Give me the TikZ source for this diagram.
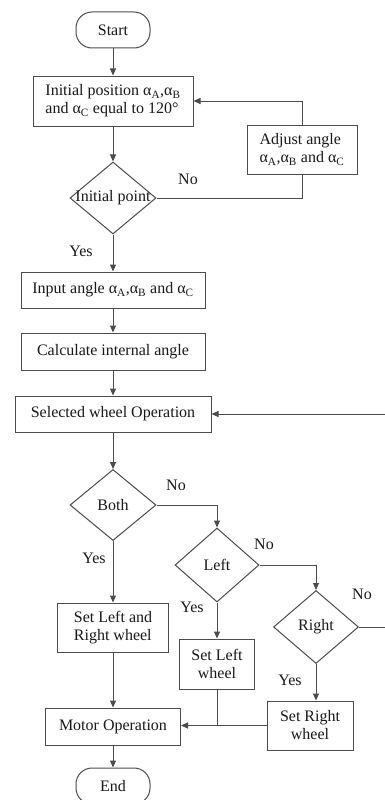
\documentclass[tikz,border=0pt]{standalone}
\usepackage{fontspec}
\setmainfont{Liberation Serif}
\usetikzlibrary{shapes.geometric,arrows.meta}
\begin{document}
\begin{tikzpicture}[x=1pt,y=-1pt,
  every node/.style={font=\fontsize{16}{18}\selectfont, text=black!90},
  line/.style={draw=black!70, line width=1pt},
  arr/.style={line, -{Triangle[length=7pt,width=6pt]}},
  box/.style={draw=black!70, line width=1pt, rectangle, inner sep=0pt, align=center},
  term/.style={box, rounded corners=16pt},
  decision/.style={draw=black!70, line width=1pt, diamond, inner sep=0pt},
  lbl/.style={inner sep=0pt}
]
\useasboundingbox (0,0) rectangle (385,800);
\fill[white] (0,0) rectangle (385,800);
\clip (0,0) rectangle (385,800);

% process steps
\node[term, minimum width=74pt, minimum height=36pt] (start) at (113,30) {Start};
\node[box, minimum width=160pt, minimum height=50pt, align=left] (init) at (113,101)
  {Initial position α\textsubscript{A},α\textsubscript{B}\\and α\textsubscript{C} equal to 120°};
\node[box, minimum width=110pt, minimum height=49pt, align=left] (adjust) at (302,149.5)
  {Adjust angle\\α\textsubscript{A},α\textsubscript{B} and α\textsubscript{C}};
\node[decision, minimum width=86pt, minimum height=72pt, label=center:{Initial point}] (initpt) at (113,198) {};
\node[box, minimum width=184pt, minimum height=36pt] (input) at (113,290)
  {Input angle α\textsubscript{A},α\textsubscript{B} and α\textsubscript{C}};
\node[box, minimum width=184pt, minimum height=37pt] (calc) at (113,351.5) {Calculate internal angle};
\node[box, minimum width=196pt, minimum height=36pt] (select) at (113,414) {Selected wheel Operation};
\node[decision, minimum width=86pt, minimum height=71pt, label=center:{Both}] (both) at (113,505) {};
\node[decision, minimum width=84pt, minimum height=74pt, label=center:{Left}] (left) at (217,565) {};
\node[decision, minimum width=85pt, minimum height=73pt, label=center:{Right}] (right) at (316,627) {};
\node[box, minimum width=111pt, minimum height=49pt, align=left] (setlr) at (113,627.5) {Set Left and\\Right wheel};
\node[box, minimum width=75pt, minimum height=50pt] (setl) at (217,664) {Set Left\\wheel};
\node[box, minimum width=86pt, minimum height=49pt] (setr) at (310,725.5) {Set Right\\wheel};
\node[box, minimum width=135pt, minimum height=37pt] (motor) at (113,726.5) {Motor Operation};
\node[term, minimum width=74pt, minimum height=36pt] (stop) at (113,786) {End};

% branch labels
\node[lbl] (no1) at (188,179) {No};
\node[lbl] (yes1) at (81,251) {Yes};
\node[lbl] (no2) at (176,485) {No};
\node[lbl] (yes2) at (94,558) {Yes};
\node[lbl] (no3) at (264,544) {No};
\node[lbl] (yes3) at (192,607) {Yes};
\node[lbl] (no4) at (362,594) {No};
\node[lbl] (yes4) at (290,680) {Yes};

\coordinate (loopout) at (392,627);

% connectors
\draw[arr] (start) -- (init);
\draw[arr] (init) -- (initpt);
\draw[line] (initpt.east) -| (adjust.south);
\draw[arr] (adjust.north) |- (init.east);
\draw[arr] (initpt) -- (input);
\draw[arr] (input) -- (calc);
\draw[arr] (calc) -- (select);
\draw[arr] (select) -- (both);
\draw[arr] (both.east) -| (left.north);
\draw[arr] (both) -- (setlr);
\draw[arr] (left.east) -| (right.north);
\draw[arr] (left) -- (setl);
\draw[arr] (right.south) -- (right.south |- setr.north);
\draw[arr] (right.east) -- (loopout) |- (select.east);
\draw[arr] (setlr) -- (motor);
\draw[line] (setl.south) -- (setl.south |- setr.west);
\draw[arr] (setr.west) -- (setr.west -| motor.east);
\draw[arr] (motor) -- (stop);
\end{tikzpicture}
\end{document}
